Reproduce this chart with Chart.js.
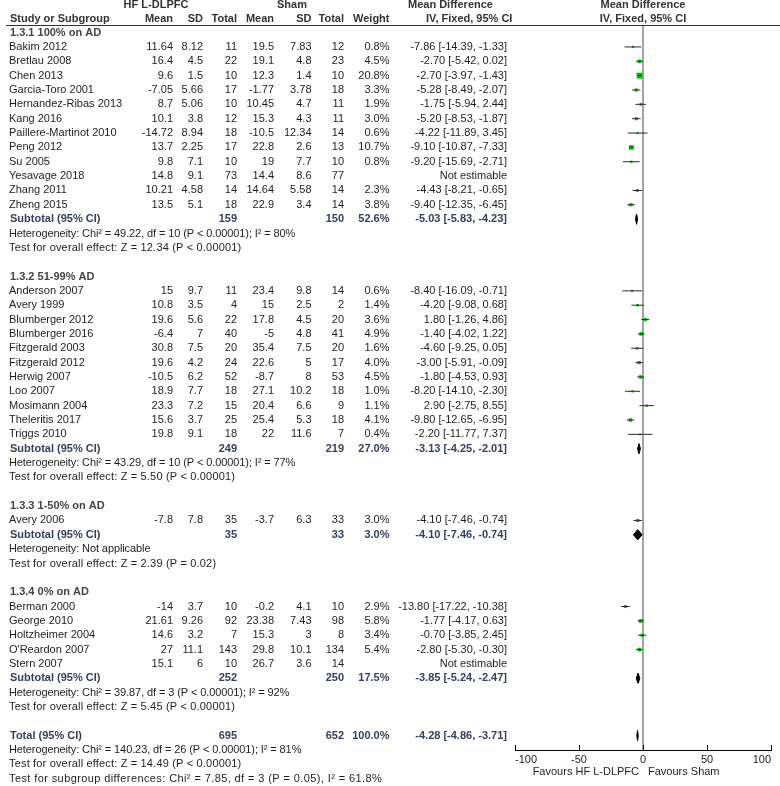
<!DOCTYPE html>
<html>
<head>
<meta charset="utf-8">
<script src="https://cdn.jsdelivr.net/npm/chart.js@4.4.0/dist/chart.umd.min.js"></script>
<style>
  html, body { margin: 0; padding: 0; background: #fff; }
  #wrap { width: 780px; height: 786px; }
</style>
</head>
<body>
<div id="wrap"><canvas id="forest" width="780" height="786"></canvas></div>
<script>
// subgroups
var groupTitles = ['1.3.1 100% on AD', '1.3.2 51-99% AD', '1.3.3 1-50% on AD', '1.3.4 0% on AD'];

// studies (null = not estimable)
var studyNames = [
    'Bakim 2012', 'Bretlau 2008', 'Chen 2013', 'Garcia-Toro 2001', 'Hernandez-Ribas 2013', 'Kang 2016',
    'Paillere-Martinot 2010', 'Peng 2012', 'Su 2005', 'Yesavage 2018', 'Zhang 2011', 'Zheng 2015',
    'Anderson 2007', 'Avery 1999', 'Blumberger 2012', 'Blumberger 2016', 'Fitzgerald 2003', 'Fitzgerald 2012',
    'Herwig 2007', 'Loo 2007', 'Mosimann 2004', 'Theleritis 2017', 'Triggs 2010',
    'Avery 2006',
    'Berman 2000', 'George 2010', 'Holtzheimer 2004', "O'Reardon 2007", 'Stern 2007'
];
var studyGroup = [0, 0, 0, 0, 0, 0, 0, 0, 0, 0, 0, 0, 1, 1, 1, 1, 1, 1, 1, 1, 1, 1, 1, 2, 3, 3, 3, 3, 3];
var hfMean = [11.64, 16.4, 9.6, -7.05, 8.7, 10.1, -14.72, 13.7, 9.8, 14.8, 10.21, 13.5,
    15, 10.8, 19.6, -6.4, 30.8, 19.6, -10.5, 18.9, 23.3, 15.6, 19.8, -7.8, -14, 21.61, 14.6, 27, 15.1];
var hfSd = [8.12, 4.5, 1.5, 5.66, 5.06, 3.8, 8.94, 2.25, 7.1, 9.1, 4.58, 5.1,
    9.7, 3.5, 5.6, 7, 7.5, 4.2, 6.2, 7.7, 7.2, 3.7, 9.1, 7.8, 3.7, 9.26, 3.2, 11.1, 6];
var hfN = [11, 22, 10, 17, 10, 12, 18, 17, 10, 73, 14, 18,
    11, 4, 22, 40, 20, 24, 52, 18, 15, 25, 18, 35, 10, 92, 7, 143, 10];
var shamMean = [19.5, 19.1, 12.3, -1.77, 10.45, 15.3, -10.5, 22.8, 19, 14.4, 14.64, 22.9,
    23.4, 15, 17.8, -5, 35.4, 22.6, -8.7, 27.1, 20.4, 25.4, 22, -3.7, -0.2, 23.38, 15.3, 29.8, 26.7];
var shamSd = [7.83, 4.8, 1.4, 3.78, 4.7, 4.3, 12.34, 2.6, 7.7, 8.6, 5.58, 3.4,
    9.8, 2.5, 4.5, 4.8, 7.5, 5, 8, 10.2, 6.6, 5.3, 11.6, 6.3, 4.1, 7.43, 3, 10.1, 3.6];
var shamN = [12, 23, 10, 18, 11, 11, 14, 13, 10, 77, 14, 14,
    14, 2, 20, 41, 20, 17, 53, 18, 9, 18, 7, 33, 10, 98, 8, 134, 14];
var weights = [0.8, 4.5, 20.8, 3.3, 1.9, 3.0, 0.6, 10.7, 0.8, null, 2.3, 3.8,
    0.6, 1.4, 3.6, 4.9, 1.6, 4.0, 4.5, 1.0, 1.1, 4.1, 0.4, 3.0, 2.9, 5.8, 3.4, 5.4, null];
var meanDiff = [-7.86, -2.70, -2.70, -5.28, -1.75, -5.20, -4.22, -9.10, -9.20, null, -4.43, -9.40,
    -8.40, -4.20, 1.80, -1.40, -4.60, -3.00, -1.80, -8.20, 2.90, -9.80, -2.20, -4.10, -13.80, -1.77, -0.70, -2.80, null];
var ciLow = [-14.39, -5.42, -3.97, -8.49, -5.94, -8.53, -11.89, -10.87, -15.69, null, -8.21, -12.35,
    -16.09, -9.08, -1.26, -4.02, -9.25, -5.91, -4.53, -14.10, -2.75, -12.65, -11.77, -7.46, -17.22, -4.17, -3.85, -5.30, null];
var ciHigh = [-1.33, 0.02, -1.43, -2.07, 2.44, -1.87, 3.45, -7.33, -2.71, null, -0.65, -6.45,
    -0.71, 0.68, 4.86, 1.22, 0.05, -0.09, 0.93, -2.30, 8.55, -6.95, 7.37, -0.74, -10.38, 0.63, 2.45, -0.30, null];

// subtotals
var subHfN = [159, 249, 35, 252];
var subShamN = [150, 219, 33, 250];
var subWeight = [52.6, 27.0, 3.0, 17.5];
var subMd = [-5.03, -3.13, -4.10, -3.85];
var subLow = [-5.83, -4.25, -7.46, -5.24];
var subHigh = [-4.23, -2.01, -0.74, -2.47];
var subHetero = [
    'Heterogeneity: Chi\u00b2 = 49.22, df = 10 (P < 0.00001); I\u00b2 = 80%',
    'Heterogeneity: Chi\u00b2 = 43.29, df = 10 (P < 0.00001); I\u00b2 = 77%',
    'Heterogeneity: Not applicable',
    'Heterogeneity: Chi\u00b2 = 39.87, df = 3 (P < 0.00001); I\u00b2 = 92%'
];
var subEffect = [
    'Test for overall effect: Z = 12.34 (P < 0.00001)',
    'Test for overall effect: Z = 5.50 (P < 0.00001)',
    'Test for overall effect: Z = 2.39 (P = 0.02)',
    'Test for overall effect: Z = 5.45 (P < 0.00001)'
];

// overall
var totalHfN = 695, totalShamN = 652, totalWeight = 100.0;
var totalMd = -4.28, totalLow = -4.86, totalHigh = -3.71;
var totalNotes = [
    'Heterogeneity: Chi\u00b2 = 140.23, df = 26 (P < 0.00001); I\u00b2 = 81%',
    'Test for overall effect: Z = 14.49 (P < 0.00001)',
    'Test for subgroup differences: Chi\u00b2 = 7.85, df = 3 (P = 0.05), I\u00b2 = 61.8%'
];

var xTicks = [-100, -50, 0, 50, 100];
var favourLeft = 'Favours HF L-DLPFC';
var favourRight = 'Favours Sham';

var FONT = 'Arial, "Liberation Sans", sans-serif';

// work out which row everything sits on
var titleRow = [], studyRow = [], subRow = [];
var r = -1;
groupTitles.forEach(function (t, g) {
    titleRow[g] = r++;
    studyNames.forEach(function (n, i) {
        if (studyGroup[i] === g) studyRow[i] = r++;
    });
    subRow[g] = r;
    r += 4;
});
var totalRow = r;

function fmtCi(md, lo, hi) {
    return md.toFixed(2) + ' [' + lo.toFixed(2) + ', ' + hi.toFixed(2) + ']';
}

// datasets
var datasets = [];
studyNames.forEach(function (n, i) {
    if (ciLow[i] === null) return;
    datasets.push({
        data: [{ x: ciLow[i], y: studyRow[i] }, { x: ciHigh[i], y: studyRow[i] }],
        showLine: true,
        borderColor: '#2a2a2a',
        borderWidth: 1,
        pointRadius: 0
    });
});
var squarePts = [], squareRadii = [];
studyNames.forEach(function (n, i) {
    if (meanDiff[i] === null) return;
    squarePts.push({ x: meanDiff[i], y: studyRow[i] });
    squareRadii.push(1 + 0.7 * Math.sqrt(weights[i]));
});
datasets.push({
    data: squarePts,
    pointStyle: 'rect',
    pointRadius: squareRadii,
    backgroundColor: '#00c400',
    borderWidth: 0
});

function diamond(md, lo, hi, row) {
    var h = 0.36;
    return {
        data: [{ x: lo, y: row }, { x: md, y: row - h }, { x: hi, y: row }, { x: md, y: row + h }, { x: lo, y: row }],
        showLine: true,
        fill: 'shape',
        backgroundColor: '#000',
        borderColor: '#000',
        borderWidth: 1,
        pointRadius: 0,
        tension: 0
    };
}
groupTitles.forEach(function (t, g) {
    datasets.push(diamond(subMd[g], subLow[g], subHigh[g], subRow[g]));
});
datasets.push(diamond(totalMd, totalLow, totalHigh, totalRow));

// table text, header line, upward tick marks
var tablePlugin = {
    id: 'forestTable',
    afterDraw: function (chart) {
        var ctx = chart.ctx;
        var xs = chart.scales.x, ys = chart.scales.y;
        var zeroX = xs.getPixelForValue(0);
        function txt(s, px, row, align, bold, color, spacing) {
            ctx.font = (bold ? 'bold ' : '') + '11px ' + FONT;
            ctx.textAlign = align;
            ctx.textBaseline = 'middle';
            ctx.fillStyle = color || '#1e1e1e';
            if ('letterSpacing' in ctx) ctx.letterSpacing = (spacing || 0) + 'px';
            ctx.fillText(s, px, ys.getPixelForValue(row));
            if ('letterSpacing' in ctx) ctx.letterSpacing = '0px';
        }
        ctx.save();

        // header line
        ctx.strokeStyle = '#333';
        ctx.lineWidth = 1;
        ctx.beginPath();
        ctx.moveTo(6, chart.chartArea.top - 0.5);
        ctx.lineTo(780, chart.chartArea.top - 0.5);
        ctx.stroke();

        // tick marks pointing up
        ctx.strokeStyle = '#000';
        xTicks.forEach(function (v) {
            var px = Math.round(xs.getPixelForValue(v)) + 0.5;
            ctx.beginPath();
            ctx.moveTo(px, chart.chartArea.bottom);
            ctx.lineTo(px, chart.chartArea.bottom - 5);
            ctx.stroke();
        });

        // column headers
        var hc = '#333';
        txt('HF L-DLPFC', 156, -2.95, 'center', true, hc);
        txt('Sham', 292, -2.95, 'center', true, hc);
        txt('Mean Difference', 408, -2.95, 'left', true, hc);
        txt('Mean Difference', zeroX, -2.95, 'center', true, hc);
        txt('Study or Subgroup', 10, -1.95, 'left', true, hc);
        txt('Mean', 173, -1.95, 'right', true, hc);
        txt('SD', 203, -1.95, 'right', true, hc);
        txt('Total', 237, -1.95, 'right', true, hc);
        txt('Mean', 274, -1.95, 'right', true, hc);
        txt('SD', 311.5, -1.95, 'right', true, hc);
        txt('Total', 344, -1.95, 'right', true, hc);
        txt('Weight', 389.5, -1.95, 'right', true, hc);
        txt('IV, Fixed, 95% CI', 426, -1.95, 'left', true, hc);
        txt('IV, Fixed, 95% CI', zeroX, -1.95, 'center', true, hc);

        var sc = '#34405e';
        groupTitles.forEach(function (t, g) {
            txt(t, 10, titleRow[g], 'left', true, '#444');
            txt('Subtotal (95% CI)', 10, subRow[g], 'left', true, sc);
            txt(String(subHfN[g]), 237, subRow[g], 'right', true, sc);
            txt(String(subShamN[g]), 344, subRow[g], 'right', true, sc);
            txt(subWeight[g].toFixed(1) + '%', 389.5, subRow[g], 'right', true, sc);
            txt(fmtCi(subMd[g], subLow[g], subHigh[g]), 507, subRow[g], 'right', true, sc);
            txt(subHetero[g], 9, subRow[g] + 1, 'left', false, null, -0.1);
            txt(subEffect[g], 9, subRow[g] + 2, 'left', false, null, 0.17);
        });

        studyNames.forEach(function (n, i) {
            var row = studyRow[i];
            txt(n, 9, row, 'left');
            txt(String(hfMean[i]), 173, row, 'right');
            txt(String(hfSd[i]), 203, row, 'right');
            txt(String(hfN[i]), 237, row, 'right');
            txt(String(shamMean[i]), 274, row, 'right');
            txt(String(shamSd[i]), 311.5, row, 'right');
            txt(String(shamN[i]), 344, row, 'right');
            if (weights[i] !== null) {
                txt(weights[i].toFixed(1) + '%', 389.5, row, 'right');
                txt(fmtCi(meanDiff[i], ciLow[i], ciHigh[i]), 507, row, 'right');
            } else {
                txt('Not estimable', 507, row, 'right');
            }
        });

        txt('Total (95% CI)', 10, totalRow, 'left', true, sc);
        txt(String(totalHfN), 237, totalRow, 'right', true, sc);
        txt(String(totalShamN), 344, totalRow, 'right', true, sc);
        txt(totalWeight.toFixed(1) + '%', 389.5, totalRow, 'right', true, sc);
        txt(fmtCi(totalMd, totalLow, totalHigh), 507, totalRow, 'right', true, sc);
        var noteSpacing = [-0.1, 0.17, 0.4];
        totalNotes.forEach(function (s, k) {
            txt(s, 9, totalRow + 1 + k, 'left', false, null, noteSpacing[k]);
        });

        // favours labels under the axis
        ctx.font = '11px ' + FONT;
        ctx.fillStyle = '#1e1e1e';
        ctx.textBaseline = 'middle';
        ctx.textAlign = 'right';
        ctx.fillText(favourLeft, zeroX - 4, 772);
        ctx.textAlign = 'left';
        ctx.fillText(favourRight, zeroX + 5, 772);

        ctx.restore();
    }
};

var chartCtx = document.getElementById('forest').getContext('2d');
new Chart(chartCtx, {
    type: 'scatter',
    data: { datasets: datasets },
    options: {
        responsive: false,
        devicePixelRatio: 1,
        animation: false,
        events: [],
        layout: { padding: { left: 515, right: 9, top: 26, bottom: 0 } },
        plugins: {
            legend: { display: false },
            tooltip: { enabled: false }
        },
        scales: {
            x: {
                type: 'linear',
                min: -100,
                max: 100,
                afterBuildTicks: function (scale) {
                    scale.ticks = xTicks.map(function (v) { return { value: v }; });
                },
                afterFit: function (scale) { scale.height = 36; },
                ticks: {
                    align: 'inner',
                    padding: 3,
                    color: '#222',
                    font: { family: FONT, size: 11 },
                    callback: function (v) { return String(v); }
                },
                grid: {
                    drawTicks: false,
                    lineWidth: 2,
                    color: function (c) { return c.tick && c.tick.value === 0 ? '#a3a3a3' : 'rgba(0,0,0,0)'; }
                },
                border: { display: true, color: '#000', width: 1 }
            },
            y: {
                type: 'linear',
                display: false,
                reverse: true,
                min: -1.46,
                max: 49
            }
        }
    },
    plugins: [tablePlugin]
});
</script>
</body>
</html>
